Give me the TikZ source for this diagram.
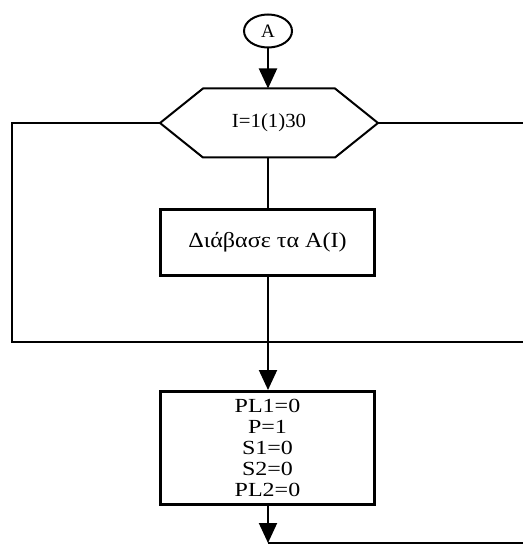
\documentclass[tikz,border=0pt]{standalone}
\usepackage{fontspec}
\setmainfont{Liberation Serif}
\newfontfamily\labelwide[FakeStretch=1.2]{Liberation Serif}
\newfontfamily\labelmid[FakeStretch=1.12]{Liberation Serif}
\newfontfamily\labelnarrow[FakeStretch=1.04]{Liberation Serif}
\usetikzlibrary{arrows.meta,shapes.geometric}
\begin{document}
\begin{tikzpicture}[x=1pt,y=-1pt,
  flow/.style={line width=2pt},
  arr/.style={flow,-{Triangle[width=18pt,length=20pt]}},
  connector/.style={draw,ellipse,line width=2pt,inner sep=0pt,
    minimum width=48pt,minimum height=33pt,font=\fontsize{19}{19}\selectfont},
  loophead/.style={inner sep=0pt,outer sep=0pt,minimum width=218pt,
    minimum height=69pt,font=\labelnarrow\fontsize{20}{20}\selectfont},
  procbox/.style={draw,line width=3pt,minimum width=214pt,align=center}]
  \useasboundingbox (0,0) rectangle (523,545);

  % entry connector
  \node[connector] (A) at (268,31) {A};

  % loop header I=1(1)30 (hexagon drawn around an invisible node)
  \node[loophead] (hex) at (269,123) {I=1(1)30};
  \draw[flow] (hex.west) -- ([xshift=43pt]hex.north west)
    -- ([xshift=-43pt]hex.north east) -- (hex.east)
    -- ([xshift=-43pt]hex.south east) -- ([xshift=43pt]hex.south west) -- cycle;

  % loop body
  \node[procbox,minimum height=66pt,font=\labelmid\fontsize{21.5}{21.5}\selectfont]
    (read) at (267.5,242.5) {Διάβασε τα A(I)};

  % initialisations
  \node[procbox,minimum height=113pt,font=\labelwide\fontsize{20}{20.8}\selectfont]
    (init) at (267.5,448) {PL1=0\\ P=1\\ S1=0\\ S2=0\\ PL2=0};

  % loop frame
  \coordinate (lt) at (12,123);
  \coordinate (lb) at (12,342);
  \coordinate (rb) at (523,342);
  \coordinate (rt) at (523,123);
  \coordinate (end) at (268,543);
  \coordinate (br) at (523,543);

  \draw[arr] (A) -- (hex.north -| A);
  \draw[flow] (hex.west) -- (lt) -- (lb) -- (rb);
  \draw[flow] (hex.east) -- (rt);
  \draw[flow] (hex.south -| A) -- (read.north -| A);
  \draw[arr] (read.south -| A) -- (init.north -| A);
  \draw[arr] (init.south -| A) -- (end);
  \draw[flow] (end) -- (br);
\end{tikzpicture}
\end{document}
